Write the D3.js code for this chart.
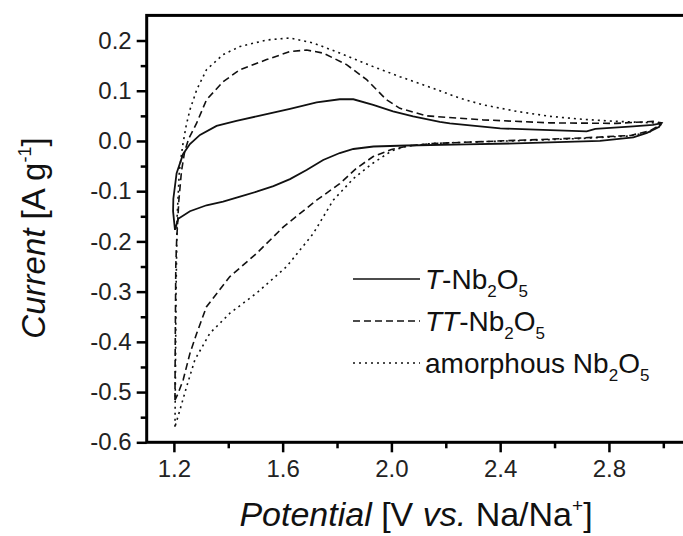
<!DOCTYPE html>
<html>
<head>
<meta charset="utf-8">
<script src="https://cdn.jsdelivr.net/npm/d3@7"></script>
<style>
  html, body { margin: 0; padding: 0; background: #fff; }
  svg { display: block; font-family: Arial, 'Liberation Sans', sans-serif; }
</style>
</head>
<body>
<svg id="chart" width="683" height="536"></svg>
<script>
"use strict";

// T-Nb2O5 (solid): anodic sweep then cathodic sweep, [V, A/g]
const tAnodic = [
  [1.204, -0.177], [1.197, -0.14], [1.198, -0.115], [1.21, -0.064], [1.234, -0.026],
  [1.259, -0.006], [1.296, 0.012], [1.357, 0.030], [1.43, 0.040], [1.504, 0.049],
  [1.627, 0.064], [1.725, 0.077], [1.81, 0.083], [1.86, 0.083], [1.933, 0.072],
  [2.006, 0.059], [2.08, 0.049], [2.178, 0.038], [2.215, 0.035], [2.4, 0.025],
  [2.557, 0.022], [2.718, 0.019], [2.75, 0.024], [2.889, 0.029], [2.962, 0.032], [2.99, 0.035]
];
const tCathodic = [
  [2.99, 0.035], [2.985, 0.028], [2.94, 0.016], [2.89, 0.007], [2.767, 0.0], [2.52, -0.004],
  [2.275, -0.007], [2.056, -0.009], [1.934, -0.011], [1.86, -0.016], [1.81, -0.024],
  [1.749, -0.038], [1.688, -0.058], [1.627, -0.076], [1.566, -0.09], [1.504, -0.101],
  [1.443, -0.111], [1.381, -0.121], [1.32, -0.128], [1.259, -0.14], [1.216, -0.155], [1.204, -0.177]
];

// TT-Nb2O5 (dashed)
const ttAnodic = [
  [1.204, -0.516], [1.205, -0.4], [1.207, -0.25], [1.21, -0.2], [1.218, -0.12],
  [1.228, -0.06], [1.24, -0.02], [1.255, 0.005], [1.284, 0.036], [1.32, 0.082],
  [1.381, 0.118], [1.443, 0.142], [1.541, 0.162], [1.627, 0.178], [1.688, 0.181],
  [1.749, 0.175], [1.835, 0.152], [1.909, 0.122], [1.982, 0.082], [2.031, 0.065],
  [2.129, 0.05], [2.337, 0.042], [2.583, 0.036], [2.828, 0.035], [2.963, 0.039], [2.995, 0.036]
];
const ttCathodic = [
  [2.995, 0.036], [2.99, 0.032], [2.95, 0.02], [2.88, 0.011], [2.7, 0.006], [2.5, 0.002],
  [2.3, -0.002], [2.15, -0.005], [2.06, -0.01], [2.0, -0.017], [1.933, -0.031],
  [1.87, -0.055], [1.81, -0.085], [1.725, -0.118], [1.603, -0.171], [1.504, -0.224],
  [1.406, -0.27], [1.32, -0.33], [1.284, -0.383], [1.259, -0.423], [1.234, -0.476],
  [1.216, -0.502], [1.204, -0.516]
];

// amorphous Nb2O5 (dotted)
const amAnodic = [
  [1.204, -0.569], [1.206, -0.45], [1.208, -0.3], [1.212, -0.15], [1.22, -0.06],
  [1.232, -0.01], [1.245, 0.03], [1.259, 0.062], [1.284, 0.102], [1.32, 0.142],
  [1.381, 0.172], [1.443, 0.188], [1.541, 0.201], [1.627, 0.205], [1.713, 0.195],
  [1.81, 0.175], [1.933, 0.148], [2.031, 0.128], [2.153, 0.105], [2.252, 0.085],
  [2.337, 0.072], [2.46, 0.059], [2.583, 0.049], [2.705, 0.043], [2.828, 0.039],
  [2.963, 0.036], [2.995, 0.036]
];
const amCathodic = [
  [2.995, 0.036], [2.99, 0.032], [2.95, 0.018], [2.88, 0.01], [2.7, 0.005], [2.5, 0.001],
  [2.3, -0.002], [2.15, -0.005], [2.06, -0.01], [2.0, -0.02], [1.93, -0.045],
  [1.86, -0.075], [1.786, -0.118], [1.713, -0.184], [1.615, -0.25], [1.504, -0.303],
  [1.406, -0.343], [1.332, -0.383], [1.277, -0.436], [1.247, -0.489], [1.222, -0.536], [1.204, -0.569]
];

const xMajorTicks = [1.2, 1.6, 2.0, 2.4, 2.8];
const xMinorTicks = [1.4, 1.8, 2.2, 2.6, 3.0];
const yMajorTicks = [0.2, 0.1, 0.0, -0.1, -0.2, -0.3, -0.4, -0.5, -0.6];
const yMinorTicks = [0.15, 0.05, -0.05, -0.15, -0.25, -0.35, -0.45, -0.55];

const seriesNames = ['T', 'TT', 'amorphous'];

const series = [
  { name: seriesNames[0], points: tAnodic.concat(tCathodic),   dash: null },
  { name: seriesNames[1], points: ttAnodic.concat(ttCathodic), dash: '7,4' },
  { name: seriesNames[2], points: amAnodic.concat(amCathodic), dash: '2,4' }
];

const svg = d3.select('#chart');

const plotLeft = 146.7, plotTop = 15.4, plotBottom = 442.3;
const x = d3.scaleLinear().domain([1.1, 3.1]).range([plotLeft, plotLeft + 2 * 271.9]);
const y = d3.scaleLinear().domain([-0.6, 0.25]).range([plotBottom, plotTop]);

// curves
const line = d3.line().x(d => x(d[0])).y(d => y(d[1]));
svg.append('g').selectAll('path').data(series).enter().append('path')
  .attr('d', d => line(d.points))
  .attr('fill', 'none')
  .attr('stroke', '#111')
  .attr('stroke-width', d => d.dash ? 1.6 : 1.8)
  .attr('stroke-dasharray', d => d.dash);

// axes (plain hyphen for negatives, as in the original)
const fmt = v => d3.format('.1f')(v).replace('\u2212', '-');
const xAxis = svg.append('g').attr('transform', 'translate(0,' + plotBottom + ')');
xAxis.call(d3.axisBottom(x).tickValues(xMajorTicks).tickFormat(fmt).tickSizeInner(10).tickSizeOuter(0).tickPadding(8));
xAxis.append('g').call(d3.axisBottom(x).tickValues(xMinorTicks).tickFormat('').tickSizeInner(6).tickSizeOuter(0));

const yAxis = svg.append('g').attr('transform', 'translate(' + plotLeft + ',0)');
yAxis.call(d3.axisLeft(y).tickValues(yMajorTicks).tickFormat(fmt).tickSizeInner(10).tickSizeOuter(0).tickPadding(5));
yAxis.append('g').call(d3.axisLeft(y).tickValues(yMinorTicks).tickFormat('').tickSizeInner(6).tickSizeOuter(0));

svg.selectAll('.domain').remove();
svg.selectAll('.tick line').attr('stroke', '#000').attr('stroke-width', 2.5);
svg.selectAll('.tick text')
  .attr('font-size', '24px')
  .attr('font-family', "Arial, 'Liberation Sans', sans-serif")
  .attr('fill', '#222');

// frame
svg.append('rect')
  .attr('x', plotLeft).attr('y', plotTop)
  .attr('width', x(3.1) - plotLeft).attr('height', plotBottom - plotTop)
  .attr('fill', 'none').attr('stroke', '#000').attr('stroke-width', 3);

// axis titles
const xTitle = svg.append('text')
  .attr('x', 416).attr('y', 526)
  .attr('text-anchor', 'middle')
  .attr('font-size', '34px').attr('fill', '#111');
xTitle.append('tspan').attr('font-style', 'italic').text('Potential');
xTitle.append('tspan').text(' [V ');
xTitle.append('tspan').attr('font-style', 'italic').text('vs.');
xTitle.append('tspan').text(' Na/Na');
xTitle.append('tspan').attr('font-size', '19px').attr('dy', -14).text('+');
xTitle.append('tspan').attr('dy', 14).text(']');

const yTitle = svg.append('text')
  .attr('transform', 'translate(45,238) rotate(-90)')
  .attr('text-anchor', 'middle')
  .attr('font-size', '33px').attr('fill', '#111');
yTitle.append('tspan').attr('font-style', 'italic').text('Current');
yTitle.append('tspan').text(' [A g');
yTitle.append('tspan').attr('font-size', '18px').attr('dy', -14).text('-1');
yTitle.append('tspan').attr('dy', 14).text(']');

// legend
const legendRows = [
  { dash: null, parts: [['T', 'i'], ['-Nb', 'n'], ['2', 's'], ['O', 'n'], ['5', 's']] },
  { dash: '7,4', parts: [['TT', 'i'], ['-Nb', 'n'], ['2', 's'], ['O', 'n'], ['5', 's']] },
  { dash: '2,4', parts: [['amorphous Nb', 'n'], ['2', 's'], ['O', 'n'], ['5', 's']] }
];
const legend = svg.append('g');
legendRows.forEach((row, i) => {
  const ly = 279 + i * 42;
  legend.append('line')
    .attr('x1', 353).attr('x2', 420).attr('y1', ly).attr('y2', ly)
    .attr('stroke', '#111').attr('stroke-width', 1.6)
    .attr('stroke-dasharray', row.dash);
  const t = legend.append('text')
    .attr('x', 425).attr('y', ly + 10)
    .attr('font-size', '28px').attr('fill', '#111');
  let shifted = false;
  row.parts.forEach(([s, kind]) => {
    const ts = t.append('tspan').text(s);
    if (kind === 'i') ts.attr('font-style', 'italic');
    if (kind === 's') {
      ts.attr('font-size', '17px').attr('dy', shifted ? 0 : 8);
      shifted = true;
    } else if (shifted) {
      ts.attr('dy', -8);
      shifted = false;
    }
  });
});
</script>
</body>
</html>
